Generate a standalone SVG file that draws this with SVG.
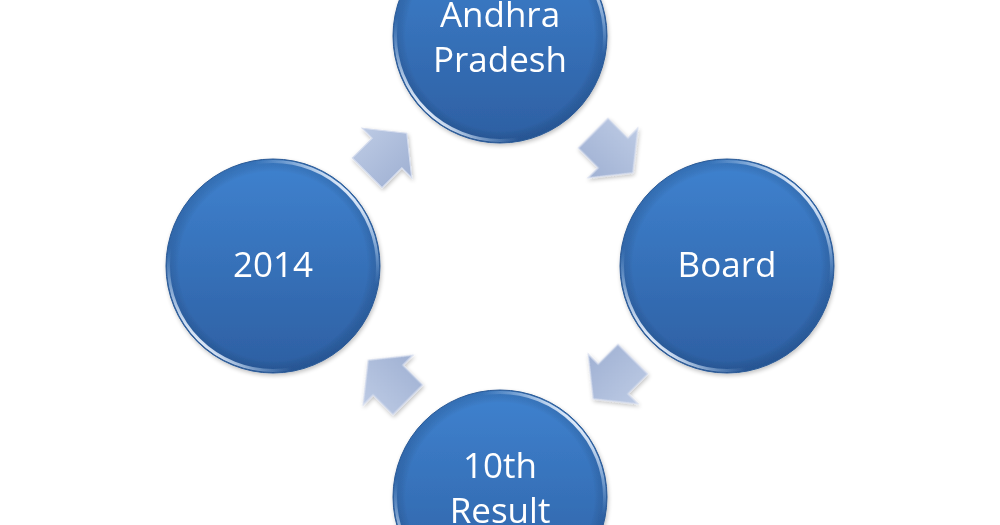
<svg xmlns="http://www.w3.org/2000/svg" width="1000" height="525" viewBox="0 0 1000 525">
  <defs>
    <linearGradient id="fill" x1="0" y1="0" x2="0" y2="1">
      <stop offset="0" stop-color="#3f82cf"/>
      <stop offset="1" stop-color="#2d5fa2"/>
    </linearGradient>
    <radialGradient id="shade" cx="0.5" cy="0.5" r="0.5">
      <stop offset="0.88" stop-color="#000" stop-opacity="0"/>
      <stop offset="1" stop-color="#0b2a55" stop-opacity="0.2"/>
    </radialGradient>
    <linearGradient id="rim" x1="0" y1="1" x2="1" y2="0">
      <stop offset="0" stop-color="#ffffff" stop-opacity="0.1"/>
      <stop offset="0.14" stop-color="#eef5ff" stop-opacity="0.95"/>
      <stop offset="0.3" stop-color="#7aaae0" stop-opacity="0"/>
      <stop offset="0.7" stop-color="#7aaae0" stop-opacity="0"/>
      <stop offset="0.86" stop-color="#eef5ff" stop-opacity="0.95"/>
      <stop offset="1" stop-color="#ffffff" stop-opacity="0.1"/>
    </linearGradient>
    <linearGradient id="arrowFill" x1="0" y1="0" x2="0" y2="1">
      <stop offset="0" stop-color="#bccae4"/>
      <stop offset="1" stop-color="#a0b1d3"/>
    </linearGradient>
    <filter id="sh" x="-20%" y="-20%" width="140%" height="140%">
      <feGaussianBlur in="SourceAlpha" stdDeviation="2"/>
      <feOffset dx="1" dy="2" result="b"/>
      <feComponentTransfer><feFuncA type="linear" slope="0.25"/></feComponentTransfer>
      <feMerge><feMergeNode/><feMergeNode in="SourceGraphic"/></feMerge>
    </filter>
    <path id="arr" d="M-28,-21 L0,-21 L0,-35 L28,0 L0,35 L0,21 L-28,21 Z"/>
    <style>
      .circ { fill: url(#fill); }
      .shd { fill: url(#shade); }
      .rimc { fill: none; stroke: url(#rim); stroke-width: 3; }
      .edge { fill: none; stroke: #2b5a96; stroke-width: 1; }
      .lbl { font-family: "Open Sans", "Liberation Sans", sans-serif; font-size: 35px; fill: #ffffff; text-anchor: middle; }
      .arrow { fill: url(#arrowFill); stroke: #d6ddee; stroke-width: 1.2; stroke-linejoin: miter; }
    </style>
  </defs>
  <rect width="1000" height="525" fill="#ffffff"/>

  <g id="connectors" filter="url(#sh)">
    <use href="#arr" class="arrow" transform="translate(387,153) rotate(-45)"/>
    <use href="#arr" class="arrow" transform="translate(613,153) rotate(45)"/>
    <use href="#arr" class="arrow" transform="translate(613,379) rotate(135)"/>
    <use href="#arr" class="arrow" transform="translate(388,380) rotate(-135)"/>
  </g>

  <g id="node-andhra" filter="url(#sh)">
    <circle cx="500" cy="36" r="107" class="circ"/>
    <circle cx="500" cy="36" r="107" class="shd"/>
    <circle cx="500" cy="36" r="104.5" class="rimc"/>
    <circle cx="500" cy="36" r="107" class="edge"/>
    <text x="500" y="27" class="lbl">Andhra</text>
    <text x="500" y="72" class="lbl">Pradesh</text>
  </g>

  <g id="node-board" filter="url(#sh)">
    <circle cx="727" cy="266" r="107" class="circ"/>
    <circle cx="727" cy="266" r="107" class="shd"/>
    <circle cx="727" cy="266" r="104.5" class="rimc"/>
    <circle cx="727" cy="266" r="107" class="edge"/>
    <text x="727" y="277" class="lbl">Board</text>
  </g>

  <g id="node-result" filter="url(#sh)">
    <circle cx="500" cy="497" r="107" class="circ"/>
    <circle cx="500" cy="497" r="107" class="shd"/>
    <circle cx="500" cy="497" r="104.5" class="rimc"/>
    <circle cx="500" cy="497" r="107" class="edge"/>
    <text x="500" y="478" class="lbl">10th</text>
    <text x="500" y="523" class="lbl">Result</text>
  </g>

  <g id="node-2014" filter="url(#sh)">
    <circle cx="273" cy="266" r="107" class="circ"/>
    <circle cx="273" cy="266" r="107" class="shd"/>
    <circle cx="273" cy="266" r="104.5" class="rimc"/>
    <circle cx="273" cy="266" r="107" class="edge"/>
    <text x="273" y="277" class="lbl">2014</text>
  </g>
</svg>
